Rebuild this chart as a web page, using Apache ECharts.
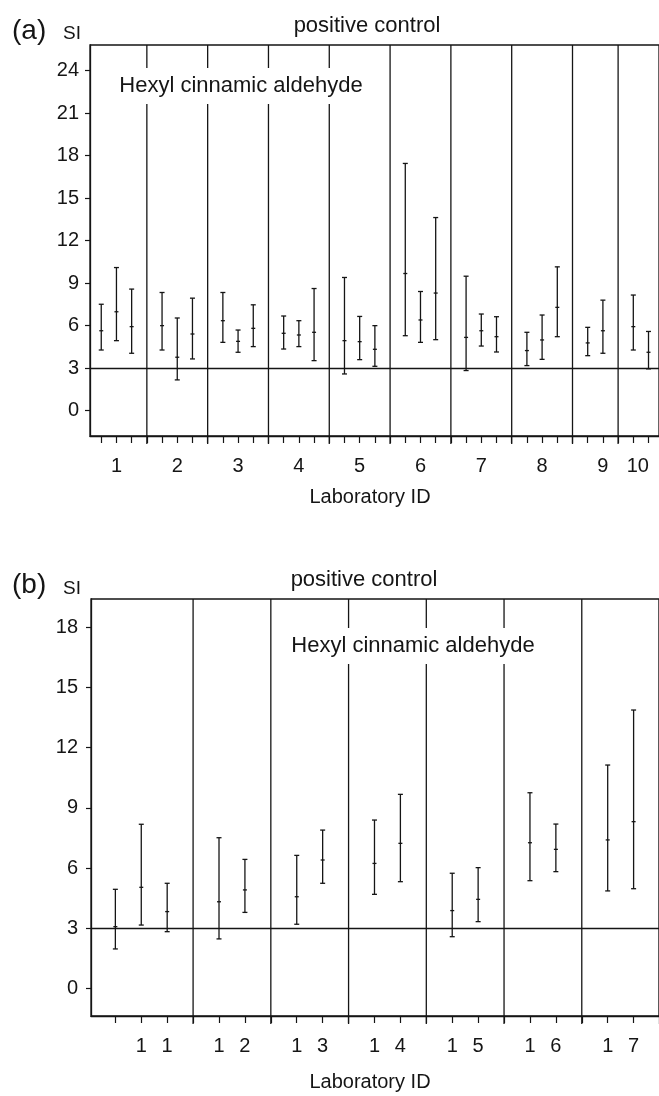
<!DOCTYPE html>
<html>
<head>
<meta charset="utf-8">
<script src="https://cdn.jsdelivr.net/npm/echarts@6/dist/echarts.min.js"></script>
<style>
  html, body { margin: 0; padding: 0; background: #fff; }
  #chart { width: 659px; height: 1096px; }
</style>
</head>
<body>
<div id="chart"></div>
<script>
// panel (a): labs 1-10, runs per lab, SI mean with low/high limits
const labsA = ['1', '2', '3', '4', '5', '6', '7', '8', '9', '10'];
const runsA = [3, 3, 3, 3, 3, 3, 3, 3, 2, 2];
const meanA = [5.63, 6.97, 5.92, 5.99, 3.76, 5.40, 6.34, 4.88, 5.80, 5.45, 5.33, 5.52,
               4.93, 4.86, 4.32, 9.67, 6.39, 8.29, 5.16, 5.63, 5.21, 4.23, 4.98, 7.28,
               4.77, 5.63, 5.92, 4.11];
const lowA  = [4.27, 4.93, 4.04, 4.27, 2.16, 3.64, 4.81, 4.11, 4.51, 4.34, 4.51, 3.52,
               2.58, 3.59, 3.12, 5.28, 4.81, 5.00, 2.82, 4.55, 4.13, 3.17, 3.61, 5.21,
               3.87, 4.04, 4.27, 2.94];
const highA = [7.50, 10.09, 8.57, 8.33, 6.53, 7.93, 8.33, 5.68, 7.46, 6.67, 6.34, 8.61,
               9.39, 6.64, 5.99, 17.44, 8.40, 13.62, 9.48, 6.81, 6.62, 5.52, 6.74, 10.14,
               5.87, 7.79, 8.15, 5.58];
const labelPosA = [2, 6, 10, 14, 18, 22, 26, 30, 34, 36.3];
const yTicksA = [0, 3, 6, 9, 12, 15, 18, 21, 24];

// panel (b): labs 11-17
const labsB = ['11', '12', '13', '14', '15', '16', '17'];
const runsB = [3, 2, 2, 2, 2, 2, 2];
const meanB = [3.08, 5.04, 3.83, 4.32, 4.91, 4.57, 6.40, 6.23, 7.23, 3.88, 4.44, 7.26, 6.93, 7.40, 8.31];
const lowB  = [1.97, 3.16, 2.83, 2.47, 3.79, 3.20, 5.24, 4.69, 5.32, 2.58, 3.33, 5.37, 5.82, 4.86, 4.97];
const highB = [4.94, 8.18, 5.24, 7.51, 6.43, 6.63, 7.89, 8.39, 9.67, 5.74, 6.02, 9.75, 8.19, 11.13, 13.87];
const yTicksB = [0, 3, 6, 9, 12, 15, 18];

const threshold = 3;

const ink = '#151515';
const font = '"Liberation Sans", Arial, sans-serif';

// slot layout: runs of a lab side by side, one empty slot (separator) after each lab
const layout = (runs) => {
    const pos = [], seps = [], groups = [];
    let s = 1;
    runs.forEach(n => {
        const g = [];
        for (let i = 0; i < n; i++) { pos.push(s + i); g.push(s + i); }
        groups.push(g);
        seps.push(s + n);
        s += n + 1;
    });
    return { pos, seps, groups };
};

const la = layout(runsA);
const lb = layout(runsB);

const dataA = la.pos.map((p, i) => [p, lowA[i], highA[i], meanA[i]]);
const dataB = lb.pos.map((p, i) => [p, lowB[i], highB[i], meanB[i]]);

// panel (b) labels: digits of the lab id under the last two runs
const digitPosB = [], digitTxtB = [];
lb.groups.forEach((g, k) => {
    const d = labsB[k].split('');
    const last = g.slice(-d.length);
    last.forEach((p, j) => { digitPosB.push(p); digitTxtB.push(d[j]); });
});

const intsUpTo = (m) => { const a = []; for (let i = 1; i <= m; i++) a.push(i); return a; };

const renderBar = (params, api) => {
    const x = api.value(0);
    const lo = api.coord([x, api.value(1)]);
    const hi = api.coord([x, api.value(2)]);
    const md = api.coord([x, api.value(3)]);
    const c = 2.5;
    const style = { stroke: ink, lineWidth: 1.3 };
    return {
        type: 'group',
        children: [
            { type: 'line', shape: { x1: lo[0], y1: lo[1], x2: hi[0], y2: hi[1] }, style },
            { type: 'line', shape: { x1: lo[0] - c, y1: lo[1], x2: lo[0] + c, y2: lo[1] }, style },
            { type: 'line', shape: { x1: hi[0] - c, y1: hi[1], x2: hi[0] + c, y2: hi[1] }, style },
            { type: 'line', shape: { x1: md[0] - 2, y1: md[1], x2: md[0] + 2, y2: md[1] }, style }
        ]
    };
};

const renderSep = (params, api) => {
    const cs = params.coordSys;
    const p = api.coord([api.value(0), 0]);
    return {
        type: 'line',
        shape: { x1: p[0], y1: cs.y, x2: p[0], y2: cs.y + cs.height + 8 },
        style: { stroke: ink, lineWidth: 1.3 }
    };
};

const xAxisBase = (idx, min, max, tickVals, labelVals, fmt) => ({
    gridIndex: idx, type: 'value', min, max,
    axisLine: { show: true, onZero: false, lineStyle: { color: ink, width: 1.3 } },
    axisTick: { show: true, customValues: tickVals, length: 7, lineStyle: { color: ink, width: 1.2 } },
    axisLabel: { customValues: labelVals, formatter: fmt, fontSize: 20, color: ink, fontFamily: font, margin: 20 },
    splitLine: { show: false }
});

const yAxisBase = (idx, min, max, ticks, margin) => ({
    gridIndex: idx, type: 'value', min, max,
    axisLine: { show: true, onZero: false, lineStyle: { color: ink, width: 1.3 } },
    axisTick: { show: true, customValues: ticks, length: 5, lineStyle: { color: ink, width: 1.2 } },
    axisLabel: { customValues: ticks, fontSize: 20, color: ink, fontFamily: font, margin },
    splitLine: { show: false }
});

const txt = (text, x, y, size, align, extra) => Object.assign({
    type: 'text', z: 100,
    style: { text, x, y, font: size + 'px ' + font, fill: ink, align, verticalAlign: 'middle' }
}, extra || {});

const labelText = (v, pos, names) => {
    const i = pos.findIndex(p => Math.abs(p - v) < 1e-6);
    return i >= 0 ? names[i] : '';
};

const threshLine = {
    silent: true, symbol: 'none', label: { show: false },
    lineStyle: { color: ink, width: 1.3, type: 'solid' },
    data: [{ yAxis: threshold }]
};

const chart = echarts.init(document.getElementById('chart'));

chart.setOption({
    animation: false,
    backgroundColor: '#fff',
    grid: [
        { left: 90, top: 45, width: 570, height: 391, show: true, borderColor: ink, borderWidth: 1.3 },
        { left: 91, top: 599, width: 569, height: 417, show: true, borderColor: ink, borderWidth: 1.3 }
    ],
    xAxis: [
        xAxisBase(0, 0.26, 37.69, intsUpTo(37), labelPosA, v => labelText(v, labelPosA, labsA)),
        xAxisBase(1, 0.06, 21.98, intsUpTo(21), digitPosB, v => labelText(v, digitPosB, digitTxtB))
    ],
    yAxis: [
        yAxisBase(0, -1.8, 25.8, yTicksA, 11),
        yAxisBase(1, -1.37, 19.4, yTicksB, 13)
    ],
    series: [
        { type: 'custom', xAxisIndex: 0, yAxisIndex: 0, renderItem: renderSep, data: la.seps.map(s => [s]), silent: true },
        { type: 'custom', xAxisIndex: 0, yAxisIndex: 0, renderItem: renderBar, data: dataA, silent: true, markLine: threshLine },
        { type: 'custom', xAxisIndex: 1, yAxisIndex: 1, renderItem: renderSep, data: lb.seps.map(s => [s]), silent: true },
        { type: 'custom', xAxisIndex: 1, yAxisIndex: 1, renderItem: renderBar, data: dataB, silent: true, markLine: threshLine }
    ],
    graphic: [
        txt('(a)', 12, 31, 28, 'left'),
        txt('SI', 63, 34, 19, 'left'),
        txt('positive control', 367, 26, 22, 'center'),
        txt('Hexyl cinnamic aldehyde', 241, 86, 22, 'center'),
        txt('Laboratory ID', 370, 497, 20, 'center'),
        txt('(b)', 12, 585, 28, 'left'),
        txt('SI', 63, 589, 19, 'left'),
        txt('positive control', 364, 580, 22, 'center'),
        txt('Hexyl cinnamic aldehyde', 413, 646, 22, 'center'),
        txt('Laboratory ID', 370, 1082, 20, 'center')
    ].map((g, i) => {
        // white box behind the compound name so the lab separators stop around it
        if (i === 3 || i === 8) {
            g.style.backgroundColor = '#fff';
            g.style.padding = [7, 3];
        }
        return g;
    })
});
</script>
</body>
</html>
